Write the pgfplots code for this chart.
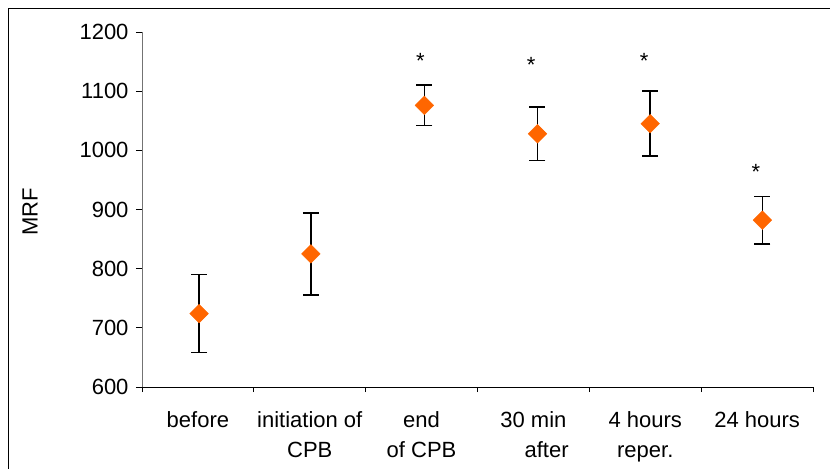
\documentclass[border=0pt]{standalone}
\usepackage{pgfplots}
\pgfplotsset{compat=1.18}
\usepackage{fontspec}
\setmainfont{Liberation Sans}
\newcommand\f{\fontsize{22bp}{30bp}\selectfont}
\definecolor{mk}{HTML}{FF6600}
\begin{document}
\begin{tikzpicture}
\draw[line width=1bp] (8bp,0) -- (8bp,460bp) -- (830bp,460bp);
\begin{axis}[
 at={(142bp,82bp)}, anchor=south west,
 scale only axis, width=671bp, height=355bp,
 xmin=-0.5, xmax=5.5, ymin=600, ymax=1200,
 axis x line*=bottom, axis y line*=left,
 axis line style={-, line width=0.9bp},
 y axis line style={draw=black!55},
 xtick={0,...,5},
 xticklabels={before, initiation of\\CPB, end\\of CPB, 30 min\\\hspace*{1.2em}after, 4 hours\\reper., 24 hours},
 major x tick style={draw=none},
 minor xtick={-0.5,0.5,...,5.5},
 minor tick length=5bp, major tick length=6bp, tick align=outside,
 ytick={600,700,...,1200},
 tick style={black, line width=0.9bp},
 /pgf/number format/assume math mode=true,
 /pgf/number format/1000 sep={},
 ticklabel style={font=\f},
 xticklabel style={align=center, yshift=-15bp},
 yticklabel style={xshift=-4bp},
 ylabel={MRF}, ylabel style={font=\f, at={(axis description cs:0,0.493)}, anchor=center, yshift=112bp},
 clip=false,
]
\addplot[only marks, mark=square*, mark size=6.6bp, mark options={rotate=45, fill=mk, draw=mk},
 error bars/.cd, y dir=both, y explicit,
 error mark options={rotate=90, mark size=8bp, line width=1.6bp, black},
 error bar style={line width=1.6bp, black}]
 coordinates {
 (0.01,724) +- (0,66)
 (1.01,825) +- (0,69)
 (2.025,1076) +- (0,34)
 (3.036,1028) +- (0,45)
 (4.044,1045) +- (0,55)
 (5.048,882) +- (0,40)
 };
\node[font=\f, anchor=north, inner sep=0pt] at (axis cs:1.99,1165) {*};
\node[font=\f, anchor=north, inner sep=0pt] at (axis cs:2.98,1158) {*};
\node[font=\f, anchor=north, inner sep=0pt] at (axis cs:3.99,1165) {*};
\node[font=\f, anchor=north, inner sep=0pt] at (axis cs:4.99,976) {*};
\end{axis}
\pgfresetboundingbox
\useasboundingbox (0,0) rectangle (830bp,469bp);
\end{tikzpicture}
\end{document}
